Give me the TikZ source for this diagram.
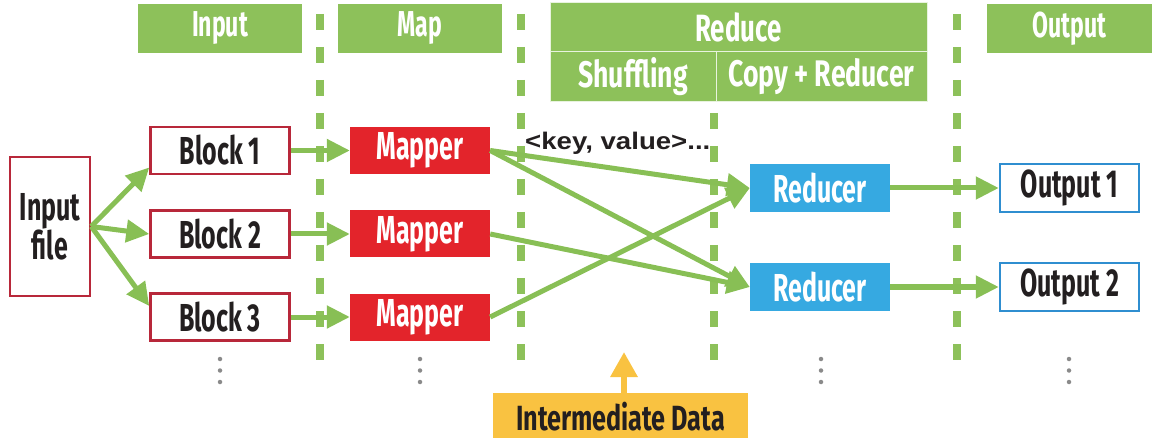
\documentclass[tikz,border=0pt]{standalone}
\usepackage{fontspec}
\setmainfont{Liberation Sans}
\newfontfamily\dinfont[FakeStretch=0.64]{Fira Sans}
\newfontfamily\dinmid[FakeStretch=0.68]{Fira Sans}
\newfontfamily\dinwide[FakeStretch=0.72]{Fira Sans}
\newfontfamily\keyfont[FakeStretch=1.15]{Liberation Sans}
\usetikzlibrary{arrows.meta,calc}
\definecolor{hgreen}{HTML}{8DC15A}
\definecolor{agreen}{HTML}{88BF55}
\definecolor{rborder}{HTML}{B8283A}
\definecolor{mapred}{HTML}{E3242B}
\definecolor{redblue}{HTML}{36A9E1}
\definecolor{outblue}{HTML}{2F8ED0}
\definecolor{interyel}{HTML}{F9C241}
\definecolor{txtblack}{HTML}{231F20}
\definecolor{dotgray}{HTML}{8A8A8A}
\newcommand\bigtxt{\dinfont\bfseries\fontsize{39}{38}\selectfont}
\newcommand\hdtxt{\dinfont\bfseries\fontsize{36}{36}\selectfont}
\newcommand\redtxt{\dinmid\bfseries\fontsize{38}{38}\selectfont}
\newcommand\subtxt{\dinwide\bfseries\fontsize{37}{37}\selectfont}
\newcommand\intxt{\dinwide\bfseries\fontsize{35}{35}\selectfont}
\tikzset{
  boxbase/.style={rectangle, inner sep=0pt, minimum width=139pt, minimum height=47pt, font=\bigtxt},
  blockbox/.style={boxbase, draw=rborder, line width=2.5pt, fill=white, text=txtblack},
  mapbox/.style={boxbase, fill=mapred, text=white, minimum width=140pt},
  redbox/.style={boxbase, fill=redblue, text=white, minimum width=140pt, minimum height=48pt},
  outbox/.style={boxbase, draw=outblue, line width=2.5pt, fill=white, text=txtblack, minimum height=48pt},
  headbox/.style={rectangle, inner sep=0pt, fill=hgreen, text=white, font=\hdtxt, minimum height=49pt},
  subbox/.style={headbox, draw=white!80!hgreen, line width=1pt, minimum height=50pt, font=\subtxt},
  flow/.style={draw=agreen, line width=5pt, -{Triangle[length=23pt,width=22pt]}},
  divline/.style={draw=hgreen, line width=8pt, dash pattern=on 16pt off 17pt},
  vdot/.style={circle, fill=dotgray, inner sep=0pt, minimum size=4.5pt},
}
\begin{document}
\begin{tikzpicture}[x=1pt,y=-1pt]
\useasboundingbox (0,0) rectangle (1164,438);
% dashed separators
\coordinate (d1t) at (320,14);  \coordinate (d1b) at (320,362);
\coordinate (d2t) at (521,14);  \coordinate (d2b) at (521,362);
\coordinate (d3t) at (714,113); \coordinate (d3b) at (714,362);
\coordinate (d4t) at (957,14);  \coordinate (d4b) at (957,362);
\draw[divline] (d1t) -- (d1b);
\draw[divline] (d2t) -- (d2b);
\draw[divline] (d3t) -- (d3b);
\draw[divline] (d4t) -- (d4b);
% headers
\node[headbox, minimum width=164pt] (hin) at (220,28.5) {Input};
\node[headbox, minimum width=164pt] (hmap) at (420,28.5) {Map};
\node[subbox, minimum width=377pt, minimum height=49pt, font=\redtxt] (hred) at (738.5,27.5) {Reduce};
\node[subbox, minimum width=166pt] (hshuf) at (633,77) {Shuffling};
\node[subbox, minimum width=211pt] (hcopy) at (821.5,77) {Copy + Reducer};
\node[headbox, minimum width=165pt] (hout) at (1069.5,28.5) {Output};
% input file
\node[blockbox, minimum width=80pt, minimum height=139pt, align=center] (inp) at (50,226.5) {Input\\file};
% blocks
\node[blockbox] (b1) at (220,150.5) {Block 1};
\node[blockbox] (b2) at (220,234) {Block 2};
\node[blockbox] (b3) at (220,317) {Block 3};
% mappers
\node[mapbox] (m1) at (420,150.5) {Mapper};
\node[mapbox] (m2) at (420,234) {Mapper};
\node[mapbox] (m3) at (420,317) {Mapper};
% reducers
\node[redbox] (r1) at (820,188) {Reducer};
\node[redbox] (r2) at (820,287) {Reducer};
% outputs
\node[outbox] (o1) at (1069.5,188) {Output 1};
\node[outbox] (o2) at (1069.5,287) {Output 2};
% key value label
\node[anchor=base west, inner sep=0pt, text=txtblack, font=\keyfont\bfseries\fontsize{24}{24}\selectfont] (kv) at (525,150) {<key, value>...};
% arrows
\draw[flow] (inp.east) -- ([yshift=-17pt]b1.west);
\draw[flow] (inp.east) -- (b2.west);
\draw[flow] (inp.east) -- ([yshift=11pt]b3.west);
\draw[flow] (b1.east) -- (m1.west);
\draw[flow] (b2.east) -- (m2.west);
\draw[flow] (b3.east) -- (m3.west);
\draw[flow] (m1.east) -- (r1.west);
\draw[flow] (m1.east) -- (r2.west);
\draw[flow] (m2.east) -- (r2.west);
\draw[flow] (m3.east) -- (r1.west);
\draw[flow] (r1.east) -- (o1.west);
\draw[flow] (r2.east) -- (o2.west);
% vertical dots
\foreach \x/\n in {220/a,420/b,821/c,1069/d}{
  \node[vdot] (dot\n1) at (\x,359) {};
  \node[vdot] (dot\n2) at (\x,370.5) {};
  \node[vdot] (dot\n3) at (\x,382) {};
}
% intermediate data
\node[rectangle, inner sep=0pt, fill=interyel, text=txtblack, font=\intxt, minimum width=255pt, minimum height=47pt] (inter) at (620.5,416.5) {Intermediate Data};
\coordinate (itip) at (624,352);
\draw[draw=interyel, line width=6pt, -{Triangle[length=25pt,width=26pt]}] (itip |- inter.north) -- (itip);
\end{tikzpicture}
\end{document}
